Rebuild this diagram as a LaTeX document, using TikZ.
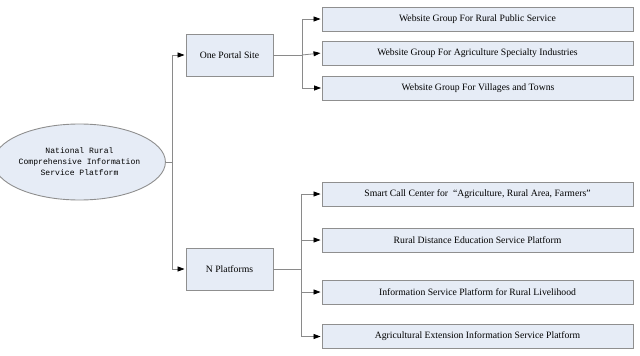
\documentclass[tikz,border=0pt]{standalone}
\usepackage{fontspec}
\setmainfont{Liberation Serif}
\newfontfamily\monofam{Liberation Mono}
\usetikzlibrary{arrows.meta,shapes.geometric}
\definecolor{boxfill}{HTML}{E6ECF6}
\definecolor{boxline}{HTML}{8F8F8F}
\definecolor{conn}{HTML}{8A8A8A}
\tikzset{
  box/.style={draw=boxline, fill=boxfill, line width=0.9pt, rectangle, inner sep=0pt, font=\fontsize{9.7}{11}\selectfont},
  wide/.style={box, minimum width=311pt, minimum height=24pt},
  mid/.style={box, minimum width=87pt, minimum height=42pt},
  root/.style={draw=boxline, fill=boxfill, line width=0.9pt, ellipse, inner sep=0pt, minimum width=145pt, minimum height=76pt, align=center, font=\monofam\fontsize{8.1}{11}\selectfont},
  link/.style={draw=conn, line width=0.8pt},
  arr/.style={link, -{Triangle[length=7pt,width=5pt,color=black]}, shorten >=1pt}
}
\begin{document}
\begin{tikzpicture}[x=1pt,y=-1pt]
\useasboundingbox (0,0) rectangle (640,356);
\node[root] (root) at (79.5,162) {National Rural\\Comprehensive Information\\Service Platform};
\node[mid] (portal) at (229.5,55) {One Portal Site};
\node[mid] (nplat) at (229.5,269) {N Platforms};
\node[wide] (w1) at (477.5,19) {Website Group For Rural Public Service};
\node[wide] (w2) at (477.5,53) {Website Group For Agriculture Specialty Industries};
\node[wide] (w3) at (478,88) {Website Group For Villages and Towns};
\node[wide] (p1) at (477.5,194) {Smart Call Center for ~\textquotedblleft Agriculture, Rural Area, Farmers\textquotedblright};
\node[wide] (p2) at (477.5,240) {Rural Distance Education Service Platform};
\node[wide] (p3) at (477.5,292) {Information Service Platform for Rural Livelihood};
\node[wide] (p4) at (477.5,336.5) {Agricultural Extension Information Service Platform};
\coordinate (j1) at (172,162);
\coordinate (j1t) at (172,55);
\coordinate (j1b) at (172,269);
\coordinate (j2) at (302,55);
\coordinate (j3) at (301,269);
\draw[link] (root.east) -- (j1);
\draw[link] (j1t) -- (j1b);
\draw[arr] (j1t) -- (portal.west);
\draw[arr] (j1b) -- (nplat.west);
\draw[link] (portal.east) -- (j2);
\draw[arr] (j2) |- (w1.west);
\draw[arr] (j2) -- (w2.west);
\draw[arr] (j2) |- (w3.west);
\draw[link] (nplat.east) -- (j3);
\draw[arr] (j3) |- (p1.west);
\draw[arr] (j3) |- (p2.west);
\draw[arr] (j3) |- (p3.west);
\draw[arr] (j3) |- (p4.west);
\end{tikzpicture}
\end{document}
